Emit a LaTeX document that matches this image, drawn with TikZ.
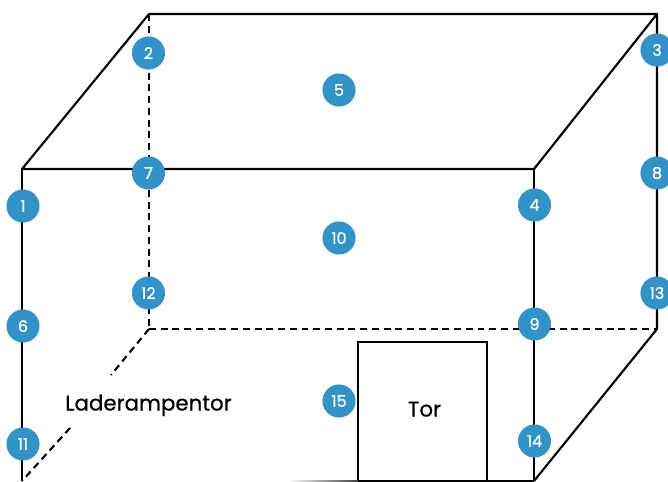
\documentclass[tikz,border=0pt]{standalone}
\usepackage{fontspec}
\setmainfont{Poppins}[FakeBold=0.6]
\definecolor{badge}{HTML}{3393C6}
\tikzset{
  x=0.75pt,y=-0.75pt,
  edge/.style={line width=1.6pt,black},
  hidden/.style={line width=1.6pt,black,dash pattern=on 5.2pt off 3.6pt},
  badgenode/.style={circle,fill=badge,text=white,inner sep=0pt,minimum size=24.8pt,font=\fontsize{12pt}{14pt}\selectfont},
  labelnode/.style={text=black,inner sep=0pt,anchor=base,font=\fontsize{16pt}{18pt}\selectfont}
}
\begin{document}
\begin{tikzpicture}
\useasboundingbox (0,0) rectangle (668,482);
\fill[white] (0,0) rectangle (668,482);
\coordinate (tbl) at (149,14);
\coordinate (tbr) at (657,14);
\coordinate (tfl) at (22,169);
\coordinate (tfr) at (534,169);
\coordinate (bbl) at (149,329);
\coordinate (bbr) at (657,329);
\coordinate (bfl) at (22,481);
\coordinate (bfr) at (534,481);
\coordinate (rampa) at (111,375);
\coordinate (rampb) at (70,428);
\coordinate (torbl) at (358,481);
\coordinate (tortl) at (358,341.5);
\coordinate (tortr) at (486.5,341.5);
\coordinate (torbr) at (486.5,481);
% hidden edges
\draw[hidden] (tbl) -- (bbl);
\draw[hidden] (bbl) -- (bbr);
\draw[hidden] (bbl) -- (rampa);
\draw[hidden] (rampb) -- (bfl);
% visible edges
\draw[edge,line join=round] (tfl) -- (tbl) -- (tbr) -- (tfr) -- cycle;
\draw[edge] (tbr) -- (bbr) -- (bfr);
\draw[edge] (tfl) -- (bfl);
\draw[edge] (tfr) -- (bfr);
\draw[edge] (torbl) -- (bfr);
\draw[edge,line width=1.5pt,line join=miter] (torbl) -- (tortl) -- (tortr) -- (torbr);
\shade[left color=white,right color=black!75] (288,480) rectangle (358,482);
% badges
\node[badgenode] (n1) at (23,206) {1};
\node[badgenode] (n2) at (148.5,53) {2};
\node[badgenode] (n3) at (657,50) {3};
\node[badgenode] (n4) at (534.5,205) {4};
\node[badgenode] (n5) at (339,90) {5};
\node[badgenode] (n6) at (23,326) {6};
\node[badgenode] (n7) at (148.5,173) {7};
\node[badgenode] (n8) at (657,173) {8};
\node[badgenode] (n9) at (534.5,324) {9};
\node[badgenode] (n10) at (339,238) {10};
\node[badgenode] (n11) at (23,444) {11};
\node[badgenode] (n12) at (148.5,293) {12};
\node[badgenode] (n13) at (657,293) {13};
\node[badgenode] (n14) at (534.5,441) {14};
\node[badgenode] (n15) at (339,401) {15};
\node[labelnode] (ramp) at (148.5,410.5) {Laderampentor};
\node[labelnode] (tor) at (424.5,416.5) {Tor};
\end{tikzpicture}
\end{document}
